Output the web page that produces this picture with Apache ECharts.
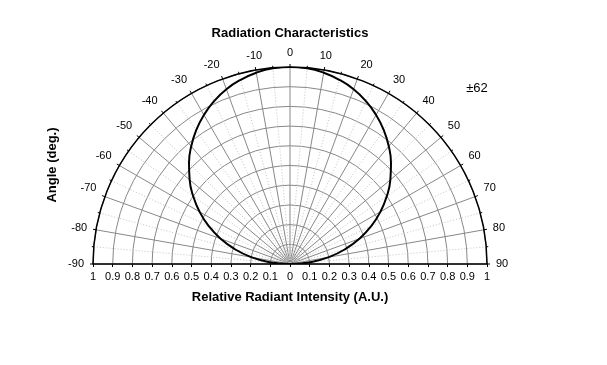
<!DOCTYPE html>
<html>
<head>
<meta charset="utf-8">
<script src="https://cdn.jsdelivr.net/npm/echarts@6/dist/echarts.min.js"></script>
<style>html,body{margin:0;padding:0;background:#fff}#c{width:607px;height:365px}</style>
</head>
<body>
<div id="c"></div>
<script>
// Angles (deg) and relative radiant intensity
var angles = [-90,-85,-80,-75,-70,-65,-60,-55,-50,-45,-40,-35,-30,-25,-20,-15,-10,-5,0,5,10,15,20,25,30,35,40,45,50,55,60,65,70,75,80,85,90];
var intensity = [0,0.105,0.2,0.29,0.375,0.455,0.53,0.6,0.665,0.725,0.78,0.83,0.874,0.912,0.944,0.968,0.986,0.997,1,0.997,0.986,0.968,0.944,0.912,0.874,0.83,0.78,0.725,0.665,0.6,0.53,0.455,0.375,0.29,0.2,0.105,0];
var baseTicks = [-1,-0.9,-0.8,-0.7,-0.6,-0.5,-0.4,-0.3,-0.2,-0.1,0,0.1,0.2,0.3,0.4,0.5,0.6,0.7,0.8,0.9,1];
var titleText = 'Radiation Characteristics';
var xName = 'Relative Radiant Intensity (A.U.)';
var yName = 'Angle (deg.)';
var halfAngleText = '\u00b162';

var font = 'Arial, "Liberation Sans", sans-serif';
var data = angles.map(function(a, i){ return [intensity[i], a]; });

var chart = echarts.init(document.getElementById('c'), null, {renderer:'canvas'});
chart.setOption({
  animation: false,
  backgroundColor: '#fff',
  polar: {center: [290, 264], radius: 197},
  angleAxis: {
    type: 'value', min: -90, max: 90, interval: 10,
    startAngle: 180, endAngle: 0, clockwise: true,
    axisLine: {lineStyle: {color: '#000', width: 1.5}},
    axisTick: {show: true, length: 3, lineStyle: {color: '#000'}},
    minorTick: {show: true, splitNumber: 2, length: 2, lineStyle: {color: '#000'}},
    axisLabel: {margin: 9, fontFamily: font, fontSize: 11, color: '#000'},
    splitLine: {show: true, lineStyle: {color: '#888', width: 1}},
    minorSplitLine: {show: true, lineStyle: {color: '#c4c4c4', width: 1, type: [1, 2]}}
  },
  radiusAxis: {
    type: 'value', min: 0, max: 1, interval: 0.1,
    axisLine: {show: false}, axisTick: {show: false}, axisLabel: {show: false},
    splitLine: {show: true, lineStyle: {color: '#888', width: 1}},
    minorTick: {show: false, splitNumber: 2},
    minorSplitLine: {show: false}
  },
  grid: {left: 93, width: 394, top: 60, height: 204},
  xAxis: {
    type: 'value', min: -1, max: 1, interval: 0.1,
    name: xName, nameLocation: 'middle', nameGap: 27,
    nameTextStyle: {fontFamily: font, fontSize: 13, fontWeight: 'bold', color: '#000'},
    axisLine: {lineStyle: {color: '#000', width: 1.5}},
    axisTick: {show: true, length: 3, lineStyle: {color: '#000'}},
    axisLabel: {margin: 7, fontFamily: font, fontSize: 11, color: '#000',
      customValues: baseTicks,
      formatter: function(v){ var a = Math.abs(v); return a === 0 ? '0' : String(+a.toFixed(1)); }},
    splitLine: {show: false}
  },
  yAxis: {type: 'value', min: 0, max: 1, show: false},
  graphic: [
    {type: 'text', x: 290, y: 33,
     style: {text: titleText, font: 'bold 13px ' + font, fill: '#000', textAlign: 'center', textVerticalAlign: 'middle'}},
    {type: 'text', x: 52, y: 165, rotation: Math.PI/2,
     style: {text: yName, font: 'bold 13px ' + font, fill: '#000', textAlign: 'center', textVerticalAlign: 'middle'}},
    {type: 'text', x: 477, y: 88,
     style: {text: halfAngleText, font: '13px ' + font, fill: '#000', textAlign: 'center', textVerticalAlign: 'middle'}}
  ],
  series: [{
    type: 'line', coordinateSystem: 'polar', data: data,
    smooth: true, showSymbol: false,
    lineStyle: {color: '#000', width: 2}
  }]
});
</script>
</body>
</html>
